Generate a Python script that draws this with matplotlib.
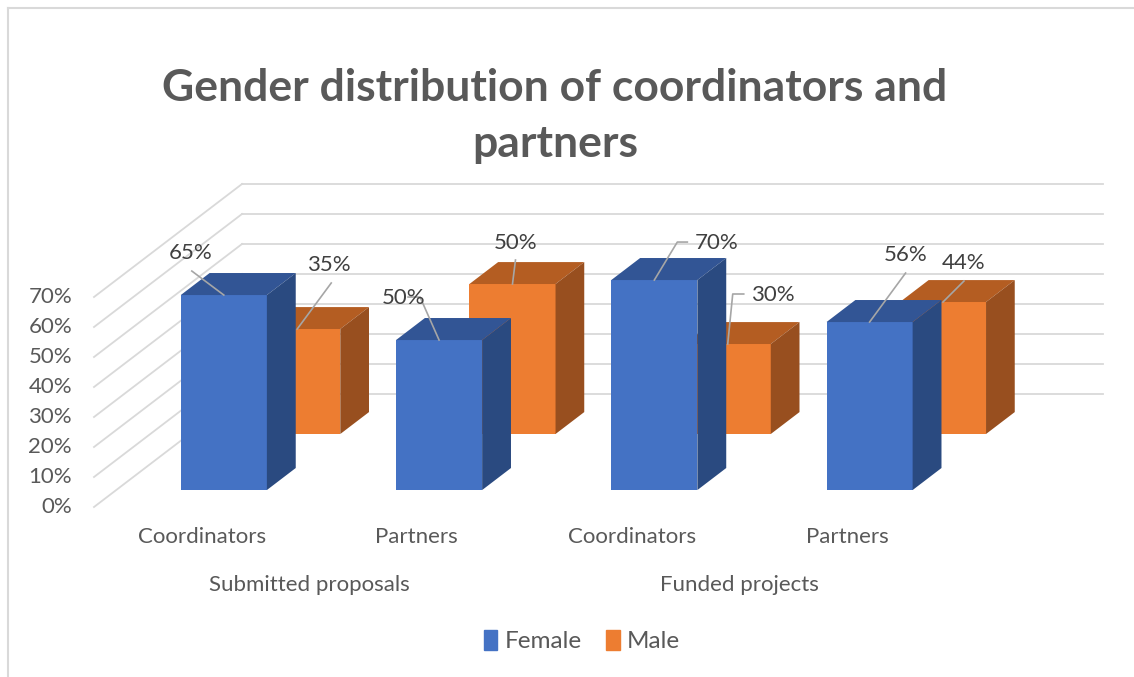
import numpy as np
import matplotlib.pyplot as plt
from matplotlib.patches import Polygon, Patch
from matplotlib.lines import Line2D

categories = ['Coordinators', 'Partners', 'Coordinators', 'Partners']
groups = ['Submitted proposals', 'Funded projects']
female = [65, 50, 70, 56]
male = [35, 50, 30, 44]
yticks = [0, 10, 20, 30, 40, 50, 60, 70]

plt.rcParams['font.family'] = ['Lato', 'DejaVu Sans']

W, H = 1134, 677
fig = plt.figure(figsize=(W / 100, H / 100), dpi=100)
ax = fig.add_axes([0, 0, 1, 1])

# geometry of the oblique "3D" plot, in pixels
X0, Y0 = 94, 507          # front-left corner of the floor
CAT_PX = 215.25           # width of one category
PCT_PX = 3.0              # pixels per percent
ax.set_xlim(-X0 / CAT_PX, (W - X0) / CAT_PX)
ax.set_ylim((Y0 - H) / PCT_PX, Y0 / PCT_PX)
ax.axis('off')

DEPTH_X = 148 / CAT_PX
DEPTH_Y = 113 / PCT_PX


def shift(d):
    return d * DEPTH_X, d * DEPTH_Y


def off(x, y, ox, oy):
    # pixel offset -> data coords
    return x + ox / CAT_PX, y - oy / PCT_PX


grid_c = '#D9D9D9'
for v in yticks:
    ax.plot([DEPTH_X, len(categories) + DEPTH_X], [v + DEPTH_Y] * 2, color=grid_c, lw=1.3, zorder=1)
    ax.plot([0, DEPTH_X], [v, v + DEPTH_Y], color=grid_c, lw=1.3, zorder=1)
    ax.text(-22 / CAT_PX, v, f'{v}%', ha='right', va='center', fontsize=16, color='#595959')


def bar3d(xc, val, d0, d1, front, top, side, z):
    sx0, sy0 = shift(d0)
    sx1, sy1 = shift(d1)
    w = 0.4
    x0 = xc - w / 2 + sx0
    x1 = xc + w / 2 + sx0
    ddx, ddy = sx1 - sx0, sy1 - sy0
    ax.bar(xc + sx0, val, w, bottom=sy0, color=front, lw=0, zorder=z)
    ax.add_patch(Polygon([(x0, sy0 + val), (x1, sy0 + val), (x1 + ddx, sy0 + val + ddy),
                          (x0 + ddx, sy0 + val + ddy)], closed=True, color=top, lw=0, zorder=z))
    ax.add_patch(Polygon([(x1, sy0), (x1 + ddx, sy0 + ddy), (x1 + ddx, sy0 + val + ddy),
                          (x1, sy0 + val)], closed=True, color=side, lw=0, zorder=z))
    return xc + sx0, sy0 + val


f_depth = (0.15, 0.345)
m_depth = (0.646, 0.84)

# label offsets (px) from the top-front centre of each bar, and leader paths
m_lab = [(32, -64), (3, -41), (45, -49), (21, -39)]
m_lead = [[(34, -46), (0, 0)], [(3, -24), (0, 0)], [(16, -50), (5, -50), (0, 0)], [(21, -21), (0, 0)]]
f_lab = [(-33, -42), (-35, -42), (62, -37), (36, -67)]
f_lead = [[(-32, -24), (0, 0)], [(-31, -43), (-19, -43), (0, 0)], [(33, -38), (23, -38), (0, 0)],
          [(36, -49), (0, 0)]]

anchors = []
for i, v in enumerate(male):
    ax_, ay_ = bar3d(i + 0.5, v, *m_depth, '#ED7D31', '#B45D22', '#984F1F', 3)
    anchors.append((ax_, ay_, v, m_lab[i], m_lead[i]))
for i, v in enumerate(female):
    ax_, ay_ = bar3d(i + 0.5, v, *f_depth, '#4472C4', '#325595', '#2A4A80', 5)
    anchors.append((ax_, ay_, v, f_lab[i], f_lead[i]))

for x, y, v, lab, lead in anchors:
    pts = [off(x, y, ox, oy) for ox, oy in lead]
    ax.plot([p[0] for p in pts], [p[1] for p in pts], color='#A6A6A6', lw=1.2, zorder=6)
    tx, ty = off(x, y, *lab)
    ax.text(tx, ty, f'{v}%', ha='center', va='center', fontsize=16, color='#404040', zorder=7)

for i, c in enumerate(categories):
    ax.text(i + 0.5, (Y0 - 537) / PCT_PX, c, ha='center', va='center', fontsize=16, color='#595959')
for g, name in enumerate(groups):
    ax.text(2 * g + 1, (Y0 - 585) / PCT_PX, name, ha='center', va='center', fontsize=16, color='#595959')

fig.text(555 / W, 1 - 116 / H, 'Gender distribution of coordinators and\npartners', ha='center',
         va='center', fontsize=32, fontweight='bold', color='#595959', linespacing=1.5)

handles = [Patch(color='#4472C4'), Patch(color='#ED7D31')]
fig.legend(handles, ['Female', 'Male'], loc='center', bbox_to_anchor=(582 / W, 1 - 641 / H), ncol=2,
           frameon=False, fontsize=17.5, handlelength=0.55, handleheight=0.9, handletextpad=0.3,
           columnspacing=1.0, labelcolor='#595959')

fig.add_artist(Line2D([8 / W, 8 / W], [0, 1 - 8 / H], color='#D9D9D9', lw=1.5))
fig.add_artist(Line2D([8 / W, 1], [1 - 8 / H, 1 - 8 / H], color='#D9D9D9', lw=1.5))

fig.savefig('out.png', dpi=100)
